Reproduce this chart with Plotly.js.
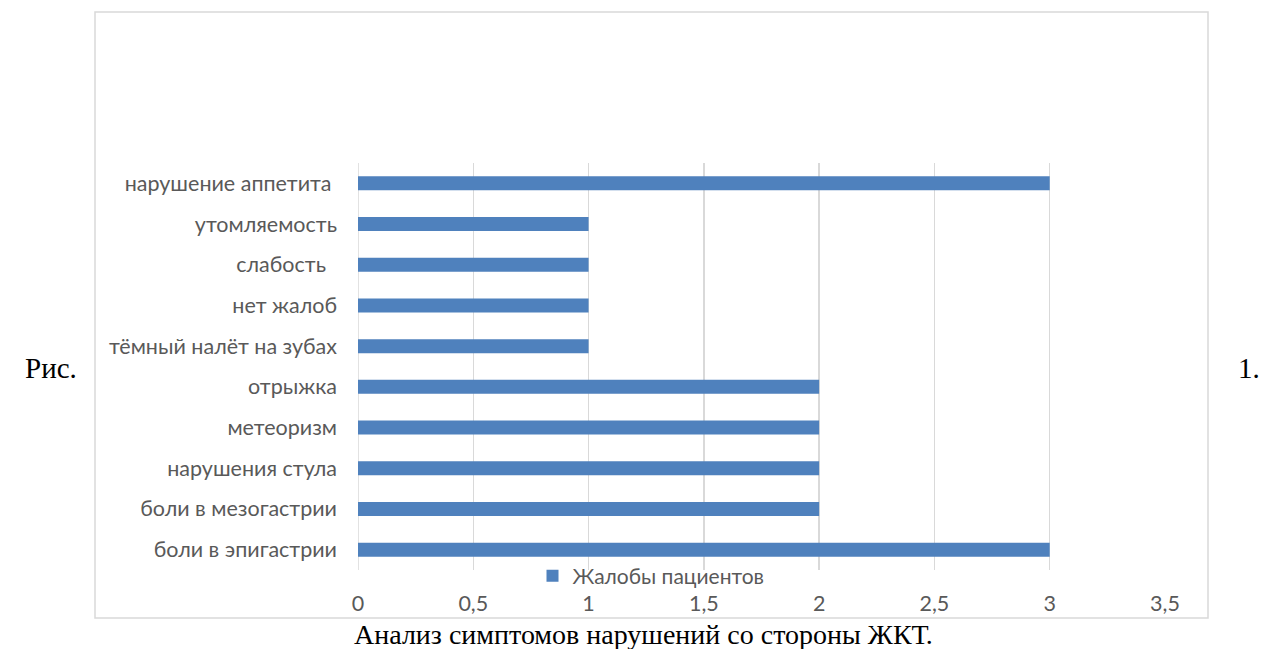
<!DOCTYPE html>
<html>
<head>
<meta charset="utf-8">
<script src="https://cdn.plot.ly/plotly-3.0.1.min.js"></script>
<style>html,body{margin:0;padding:0;background:#fff;}#chart{width:1271px;height:649px;}</style>
</head>
<body>
<div id="chart"></div>
<script>
const categories = [
  "боли в эпигастрии",
  "боли в мезогастрии",
  "нарушения стула",
  "метеоризм",
  "отрыжка",
  "тёмный налёт на зубах",
  "нет жалоб",
  "слабость\u00a0\u00a0",
  "утомляемость",
  "нарушение аппетита\u00a0"
];
const values = [3, 2, 2, 2, 2, 1, 1, 1, 1, 3];
const seriesName = "Жалобы пациентов";
const xTickVals = [0, 0.5, 1, 1.5, 2, 2.5, 3, 3.5];
const xTickText = ["0", "0,5", "1", "1,5", "2", "2,5", "3", "3,5"];
const captionText = "Анализ симптомов нарушений со стороны ЖКТ.";

// plot area in pixels
const L = 358, R = 1165, T = 163, B = 570, W = 1271, H = 649;
const pw = R - L, ph = B - T;
const px = x => (x - L) / pw;
const py = y => (B - y) / ph;

const FS = 21.5;
const serif = "'Liberation Serif', 'Times New Roman', serif";

const trace = {
  type: "bar",
  orientation: "h",
  x: values,
  y: categories,
  name: seriesName,
  marker: {color: "#4f81bd"},
  showlegend: true,
  hoverinfo: "x+y"
};

const layout = {
  width: W, height: H,
  margin: {l: L, r: W - R, t: T, b: H - B, pad: 0},
  paper_bgcolor: "#ffffff",
  plot_bgcolor: "#ffffff",
  bargap: 0.656,
  font: {family: "Lato, 'Open Sans', sans-serif", size: FS, color: "#595959"},
  xaxis: {
    range: [0, 3.5],
    tickvals: xTickVals,
    ticktext: xTickText,
    showgrid: true,
    gridcolor: "#d9d9d9",
    gridwidth: 1.5,
    zeroline: false,
    showline: false,
    ticks: "",
    ticklabelstandoff: 18,
    tickfont: {size: FS, color: "#595959"},
    fixedrange: true
  },
  yaxis: {
    type: "category",
    showgrid: false,
    zeroline: false,
    showline: false,
    ticks: "",
    ticklabelstandoff: 20,
    tickfont: {size: FS, color: "#595959"},
    fixedrange: true
  },
  showlegend: true,
  legend: {
    orientation: "h",
    x: px(651), xanchor: "center",
    y: py(576), yanchor: "middle",
    font: {size: 21, color: "#595959"},
    bgcolor: "rgba(0,0,0,0)",
    tracegroupgap: 0
  },
  shapes: [
    {type: "rect", xref: "paper", yref: "paper",
     x0: px(95), x1: px(1208), y0: py(618), y1: py(12),
     line: {color: "#d9d9d9", width: 1.5}, fillcolor: "rgba(0,0,0,0)", layer: "below"},
    {type: "line", xref: "x", yref: "paper", x0: 0, x1: 0, y0: 0, y1: 1,
     line: {color: "#d9d9d9", width: 1.5}, layer: "below"}
  ],
  annotations: [
    {text: "Рис.", xref: "paper", yref: "paper", x: px(51), y: py(368),
     xanchor: "center", yanchor: "middle", showarrow: false,
     font: {family: serif, size: 29, color: "#000"}},
    {text: "1.", xref: "paper", yref: "paper", x: px(1249), y: py(368),
     xanchor: "center", yanchor: "middle", showarrow: false,
     font: {family: serif, size: 29, color: "#000"}},
    {text: captionText, xref: "paper", yref: "paper", x: px(643), y: py(634),
     xanchor: "center", yanchor: "middle", showarrow: false,
     font: {family: serif, size: 28, color: "#000"}}
  ]
};

Plotly.newPlot("chart", [trace], layout, {displayModeBar: false, staticPlot: true});
</script>
</body>
</html>
